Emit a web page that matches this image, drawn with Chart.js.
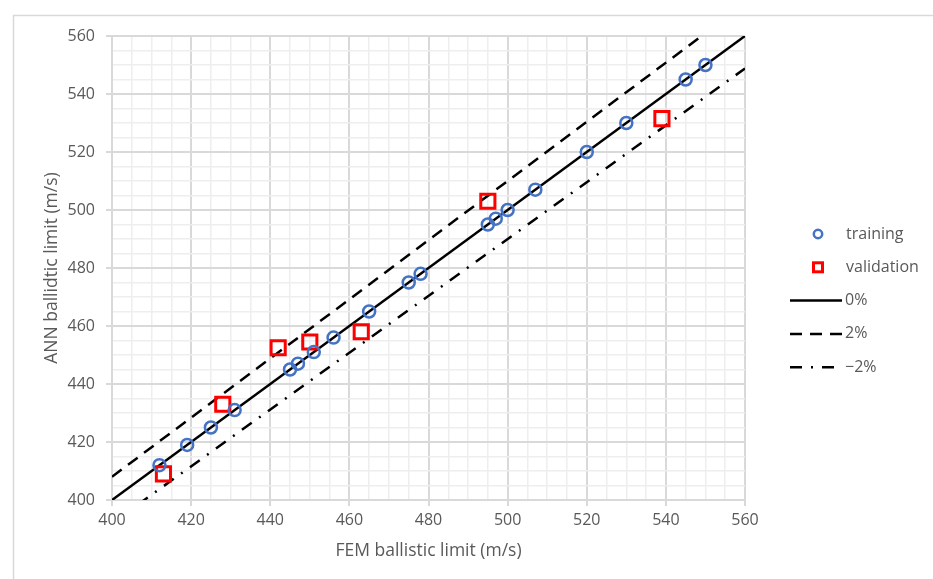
<!DOCTYPE html>
<html lang="en">
<head>
<meta charset="UTF-8">
<script src="https://cdn.jsdelivr.net/npm/chart.js"></script>
<title>ANN vs FEM ballistic limit</title>
<style>
    body { margin: 0; background: #ffffff; }
    #chart_container { width: 933px; height: 579px; }
</style>
</head>
<body>
<div id="chart_container">
    <canvas id="chart_canvas" width="933" height="579"></canvas>
</div>
<script>
    // training points
    const training_x = [412, 419, 425, 431, 445, 447, 451, 456, 465, 475, 478, 495, 497, 500, 507, 520, 530, 545, 550];
    const training_y = [412, 419, 425, 431, 445, 447, 451, 456, 465, 475, 478, 495, 497, 500, 507, 520, 530, 545, 550];

    // validation points
    const validation_x = [413, 428, 442, 450, 463, 495, 539];
    const validation_y = [409, 433, 452.5, 454.5, 458, 503, 531.5];

    // reference lines, end points at x = 400 and x = 560
    const line_x = [400, 560];
    const line_0 = [400, 560];
    const line_plus2 = [408, 571.2];
    const line_minus2 = [392, 548.8];

    const x_title = 'FEM ballistic limit (m/s)';
    const y_title = 'ANN ballidtic limit (m/s)';

    const TEXT_COLOR = '#595959';
    const MAJOR_GRID = '#d9d9d9';
    const MINOR_GRID = '#eeeeee';
    const FONT_FAMILY = "'Open Sans', 'Liberation Sans', sans-serif";

    function to_points(xs, ys) {
        return xs.map((x, i) => ({ x: x, y: ys[i] }));
    }

    const datasets = [
        {
            label: 'training', data: to_points(training_x, training_y),
            pointStyle: 'circle', pointRadius: 6, pointBorderWidth: 2.5,
            borderColor: '#4472c4', backgroundColor: 'rgba(0,0,0,0)'
        },
        {
            label: 'validation', data: to_points(validation_x, validation_y),
            pointStyle: 'rect', pointRadius: 10, pointBorderWidth: 3,
            borderColor: '#ff0000', backgroundColor: 'rgba(0,0,0,0)'
        },
        {
            label: '0%', data: to_points(line_x, line_0), showLine: true,
            pointRadius: 0, borderColor: '#000000', borderWidth: 2.5
        },
        {
            label: '2%', data: to_points(line_x, line_plus2), showLine: true,
            pointRadius: 0, borderColor: '#000000', borderWidth: 2.5, borderDash: [12, 8]
        },
        {
            label: '\u22122%', data: to_points(line_x, line_minus2), showLine: true,
            pointRadius: 0, borderColor: '#000000', borderWidth: 2.5, borderDash: [12, 9, 2, 9]
        }
    ];

    function major_or_minor(major, minor) {
        return (ctx) => (ctx.tick && ctx.tick.value % 20 === 0) ? major : minor;
    }

    const grid_options = {
        color: major_or_minor(MAJOR_GRID, MINOR_GRID),
        lineWidth: major_or_minor(2, 1.5),
        tickColor: major_or_minor(MAJOR_GRID, 'rgba(0,0,0,0)'),
        tickWidth: 2,
        tickLength: 6
    };

    const tick_options = {
        stepSize: 5,
        autoSkip: false,
        maxRotation: 0,
        color: TEXT_COLOR,
        font: { family: FONT_FAMILY, size: 16 },
        callback: (v) => (v % 20 === 0 ? v : '')
    };

    // frame around the whole figure and white background
    const frame_plugin = {
        id: 'frame',
        beforeDraw(chart) {
            const c = chart.ctx;
            c.save();
            c.fillStyle = '#ffffff';
            c.fillRect(0, 0, chart.width, chart.height);
            c.strokeStyle = '#d9d9d9';
            c.lineWidth = 1.5;
            c.strokeRect(13.5, 15.5, 1000, 1000);
            c.restore();
        }
    };

    // legend on the right, drawn by hand to get the line styles
    const legend_plugin = {
        id: 'side_legend',
        afterDraw(chart) {
            const c = chart.ctx;
            const x_line_start = 790, x_line_end = 842, x_text = 845;
            const x_marker = 818;
            let y = 234;
            c.save();
            c.font = '16px ' + FONT_FAMILY;
            c.textBaseline = 'middle';
            chart.data.datasets.forEach((ds) => {
                c.strokeStyle = ds.borderColor;
                c.setLineDash([]);
                if (ds.showLine) {
                    c.lineWidth = ds.borderWidth;
                    c.setLineDash(ds.borderDash || []);
                    c.beginPath();
                    c.moveTo(x_line_start, y);
                    c.lineTo(x_line_end, y);
                    c.stroke();
                } else if (ds.pointStyle === 'circle') {
                    c.lineWidth = 2.5;
                    c.beginPath();
                    c.arc(x_marker, y, 4.2, 0, Math.PI * 2);
                    c.stroke();
                } else {
                    c.lineWidth = 3;
                    c.strokeRect(x_marker - 4.5, y - 4.5, 9, 9);
                }
                c.setLineDash([]);
                c.fillStyle = TEXT_COLOR;
                c.fillText(ds.label, ds.showLine ? x_text : x_text + 1, y);
                y += 33.3;
            });
            c.restore();
        }
    };

    const ctx = document.getElementById('chart_canvas').getContext('2d');
    const chart = new Chart(ctx, {
        type: 'scatter',
        data: { datasets: datasets },
        plugins: [frame_plugin, legend_plugin],
        options: {
            responsive: false,
            animation: false,
            layout: { padding: { left: 0, top: 36, right: 188, bottom: 0 } },
            plugins: {
                legend: { display: false },
                tooltip: { enabled: false }
            },
            scales: {
                x: {
                    type: 'linear', min: 400, max: 560,
                    grid: grid_options,
                    border: { color: MAJOR_GRID, width: 2 },
                    ticks: Object.assign({}, tick_options, { padding: 5 }),
                    title: {
                        display: true, text: x_title, color: TEXT_COLOR,
                        font: { family: FONT_FAMILY, size: 17.5 },
                        padding: { top: 0, bottom: 17 }
                    },
                    afterFit: (scale) => { scale.height = 79; }
                },
                y: {
                    type: 'linear', min: 400, max: 560,
                    grid: grid_options,
                    border: { color: MAJOR_GRID, width: 2 },
                    ticks: Object.assign({}, tick_options, { padding: 11 }),
                    title: {
                        display: true, text: y_title, color: TEXT_COLOR,
                        font: { family: FONT_FAMILY, size: 17.5 },
                        padding: { top: 42, bottom: 0 }
                    },
                    afterFit: (scale) => { scale.width = 112; }
                }
            }
        }
    });
</script>
</body>
</html>
